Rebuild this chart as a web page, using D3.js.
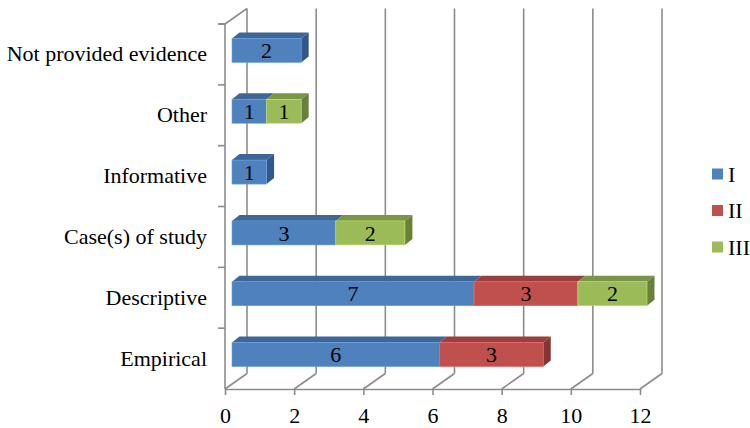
<!DOCTYPE html>
<html><head><meta charset="utf-8"><script src="https://cdn.jsdelivr.net/npm/d3@7"></script></head>
<body style="margin:0">
<svg width="750" height="428"></svg>
<script>
// Evidence types (bottom to top) and counts per group
const categories = ["Empirical", "Descriptive", "Case(s) of study", "Informative", "Other", "Not provided evidence"];
const seriesNames = ["I", "II", "III"];
const valuesI   = [6, 7, 3, 1, 1, 2];
const valuesII  = [3, 3, 0, 0, 0, 0];
const valuesIII = [0, 2, 2, 0, 1, 0];
const xTicks = [0, 2, 4, 6, 8, 10, 12];

const FS = 22;

const palette = {
  I:   { front: "#4F81BD", top: "#3E6797", side: "#34578A" },
  II:  { front: "#C0504D", top: "#9A3F3D", side: "#833533" },
  III: { front: "#9BBB59", top: "#7A9545", side: "#68803A" }
};

const svg = d3.select("svg");

// Shared text styling
function label(sel) {
  return sel
    .attr("style", `font-family: "Liberation Serif", "Times New Roman", serif !important; font-size: ${FS}px !important;`)
    .attr("fill", "#000");
}

// Front plane of the 3-D box
const x = d3.scaleLinear().domain([0, 12]).range([225, 640]);
const y = d3.scaleBand().domain(categories).range([389, 24]);
// Back wall offset (depth)
const back = { dx: 22, dy: -15.5 };
const gridColor = "#8C8C8C";

const grid = svg.append("g").attr("stroke", gridColor).attr("stroke-width", 1.6).attr("fill", "none");

// Back wall vertical gridlines and floor diagonals
xTicks.forEach(t => {
  const xf = x(t), xb = x(t) + back.dx;
  grid.append("line").attr("x1", xb).attr("x2", xb).attr("y1", 24 + back.dy).attr("y2", 389 + back.dy);
  grid.append("line").attr("x1", xf).attr("x2", xb).attr("y1", 389).attr("y2", 389 + back.dy);
});
// Left side wall top edge
grid.append("line").attr("x1", x(0)).attr("x2", x(0) + back.dx).attr("y1", 24).attr("y2", 24 + back.dy);

// Front category axis (left) with ticks on the band boundaries
grid.append("line").attr("x1", x(0)).attr("x2", x(0)).attr("y1", 24).attr("y2", 389);
const bounds = categories.map(c => y(c)).concat([y.range()[1]]);
bounds.forEach(b => {
  grid.append("line").attr("x1", x(0) - 7).attr("x2", x(0)).attr("y1", b).attr("y2", b);
});

// Front value axis (bottom)
const xAxis = svg.append("g")
  .attr("transform", "translate(0,389)")
  .call(d3.axisBottom(x).tickValues(xTicks).tickSize(6).tickSizeOuter(0).tickPadding(12));
xAxis.attr("font-family", "Liberation Serif").attr("font-size", FS);
xAxis.select(".domain").attr("stroke", gridColor).attr("stroke-width", 1.6);
xAxis.selectAll(".tick line").attr("stroke", gridColor).attr("stroke-width", 1.6);
label(xAxis.selectAll(".tick text"));

// Category labels
const yAxis = svg.append("g")
  .attr("transform", `translate(${x(0)},0)`)
  .call(d3.axisLeft(y).tickSize(0).tickPadding(18));
yAxis.attr("font-family", "Liberation Serif").attr("font-size", FS);
yAxis.select(".domain").remove();
label(yAxis.selectAll(".tick text"));

// Stacked bar segments
const rows = categories.map((c, i) => ({ cat: c, I: valuesI[i], II: valuesII[i], III: valuesIII[i] }));
const stacked = d3.stack().keys(seriesNames)(rows);

const barShift = { dx: 7, dy: -4 };    // bar position inside the box depth
const barDepth = { dx: 7.5, dy: -6 };  // visible thickness of the bar
const barH = 24;

const bars = svg.append("g").attr("font-family", "Liberation Serif");
rows.forEach((row, i) => {
  const segs = stacked.map(s => ({ key: s.key, v0: s[i][0], v1: s[i][1] })).filter(d => d.v1 > d.v0);
  const yc = y(row.cat) + y.bandwidth() / 2 + barShift.dy;
  const yTop = yc - barH / 2, yBot = yc + barH / 2;
  segs.forEach((d, j) => {
    const c = palette[d.key];
    const x0 = x(d.v0) + barShift.dx, x1 = x(d.v1) + barShift.dx;
    // top face
    bars.append("path")
      .attr("d", `M${x0},${yTop}L${x0 + barDepth.dx},${yTop + barDepth.dy}L${x1 + barDepth.dx},${yTop + barDepth.dy}L${x1},${yTop}Z`)
      .attr("fill", c.top);
    // side face on the end of the stack
    if (j === segs.length - 1) {
      bars.append("path")
        .attr("d", `M${x1},${yTop}L${x1 + barDepth.dx},${yTop + barDepth.dy}L${x1 + barDepth.dx},${yBot + barDepth.dy}L${x1},${yBot}Z`)
        .attr("fill", c.side);
    }
    // front face
    bars.append("rect")
      .attr("x", x0).attr("y", yTop).attr("width", x1 - x0).attr("height", barH)
      .attr("fill", c.front)
      .attr("stroke", d3.color(c.front).brighter(0.6)).attr("stroke-width", 0.6);
    // value label
    label(bars.append("text"))
      .attr("x", (x0 + x1) / 2).attr("y", yc)
      .attr("dy", "0.35em").attr("text-anchor", "middle")
      .text(d.v1 - d.v0);
  });
});

// Legend
const legend = svg.append("g").attr("font-family", "Liberation Serif");
const legendY = d3.scalePoint().domain(seriesNames).range([174, 247]);
seriesNames.forEach(n => {
  legend.append("rect")
    .attr("x", 712).attr("y", legendY(n) - 5.5).attr("width", 11).attr("height", 11)
    .attr("fill", palette[n].front);
  label(legend.append("text"))
    .attr("x", 728).attr("y", legendY(n)).attr("dy", "0.35em")
    .text(n);
});
</script>
</body>
</html>
